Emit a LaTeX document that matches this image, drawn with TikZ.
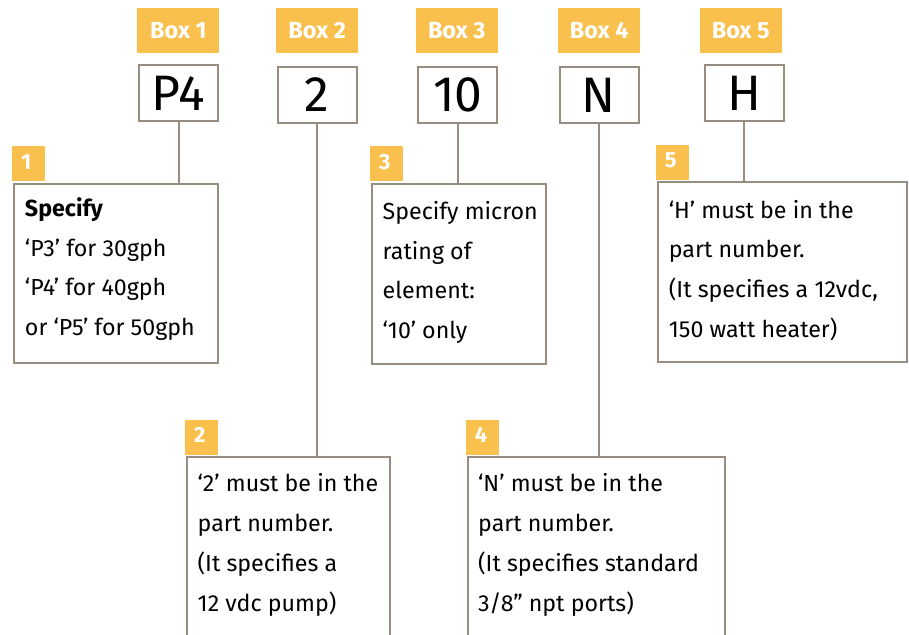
\documentclass[tikz,border=0pt]{standalone}
\usepackage{fontspec}
\setmainfont{Fira Sans}
\definecolor{tabc}{RGB}{249,192,78}
\definecolor{edgec}{RGB}{150,141,128}
\begin{document}
\begin{tikzpicture}[x=1bp,y=-1bp,
  hdr/.style={fill=tabc, text=white, font=\fontsize{23.5}{23.5}\selectfont\bfseries, minimum width=82bp, minimum height=44.7bp, inner sep=0pt},
  val/.style={draw=edgec, line width=2bp, minimum width=79bp, minimum height=56bp, inner sep=0pt, font=\fontsize{50}{50}\selectfont},
  desc/.style={draw=edgec, line width=2bp, inner sep=0pt, anchor=north west},
  numtab/.style={fill=tabc, minimum width=32.6bp, minimum height=35bp, inner sep=0pt, anchor=south west},
  numtxt/.style={text=white, font=\fontsize{22}{22}\selectfont\bfseries, anchor=base west, inner sep=0pt},
  txt/.style={anchor=base west, inner sep=0pt, font=\fontsize{23.3}{40}\selectfont},
  conn/.style={draw=edgec, line width=2bp}]
\useasboundingbox (0,0) rectangle (909,635);
\clip (0,0) rectangle (909,635);

% headers
\node[hdr] (h1) at (178.3,30.3) {Box 1};
\node[hdr] (h2) at (317.2,30.3) {Box 2};
\node[hdr] (h3) at (456.8,30.3) {Box 3};
\node[hdr] (h4) at (599.2,30.3) {Box 4};
\node[hdr] (h5) at (740.8,30.3) {Box 5};

% value boxes
\node[val] (v1) at (178.5,93.2) {P4};
\node[val] (v2) at (317.0,95.0) {2};
\node[val] (v3) at (457.8,94.8) {10};
\node[val] (v4) at (599.0,95.0) {N};
\node[val] (v5) at (744.2,93.0) {H};

% description boxes
\node[desc, minimum width=204bp, minimum height=179.6bp] (d1) at (13.3,182.7) {};
\node[desc, minimum width=174bp, minimum height=180.6bp] (d3) at (371,182.7) {};
\node[desc, minimum width=249bp, minimum height=180.3bp] (d5) at (656.7,181) {};
\node[desc, minimum width=203bp, minimum height=220bp] (d2) at (186,456) {};
\node[desc, minimum width=257.3bp, minimum height=220bp] (d4) at (467,456) {};

% number tabs
\node[numtab] (t1) at ([xshift=-1.3bp,yshift=1bp]d1.north west) {};
\node[numtab] (t2) at ([xshift=-1bp,yshift=1bp]d2.north west) {};
\node[numtab] (t3) at ([xshift=-1bp,yshift=1bp]d3.north west) {};
\node[numtab] (t4) at ([xshift=-1.3bp,yshift=1bp]d4.north west) {};
\node[numtab] (t5) at ([xshift=-1bp,yshift=1bp]d5.north west) {};
\node[numtxt] (n1) at ([xshift=9bp,yshift=12.5bp]t1.south west) {1};
\node[numtxt] (n2) at ([xshift=9bp,yshift=12.5bp]t2.south west) {2};
\node[numtxt] (n3) at ([xshift=9bp,yshift=12.5bp]t3.south west) {3};
\node[numtxt] (n4) at ([xshift=9bp,yshift=12.5bp]t4.south west) {4};
\node[numtxt] (n5) at ([xshift=9bp,yshift=12.5bp]t5.south west) {5};

% connectors
\draw[conn] (v1.south) -- (v1.south |- d1.north);
\draw[conn] (v2.south) -- (v2.south |- d2.north);
\draw[conn] (v3.south) -- (v3.south |- d3.north);
\draw[conn] (v4.south) -- (v4.south |- d4.north);
\draw[conn] (v5.south) -- (v5.south |- d5.north);

% texts
\node[txt] (x1) at ([xshift=11.5bp,yshift=-33.5bp]d1.north west) {\begin{tabular}[t]{@{}l@{}}\textbf{Specify}\\ `P3' for 30gph\\ `P4' for 40gph\\ or `P5' for 50gph\end{tabular}};
\node[txt] (x3) at ([xshift=11.5bp,yshift=-36.5bp]d3.north west) {\begin{tabular}[t]{@{}l@{}}Specify micron\\ rating of\\ element:\\ `10' only\end{tabular}};
\node[txt] (x5) at ([xshift=12bp,yshift=-37bp]d5.north west) {\begin{tabular}[t]{@{}l@{}}`H' must be in the\\ part number.\\ (It specifies a 12vdc,\\ 150 watt heater)\end{tabular}};
\node[txt] (x2) at ([xshift=11.5bp,yshift=-35.7bp]d2.north west) {\begin{tabular}[t]{@{}l@{}}`2' must be in the\\ part number.\\ (It specifies a\\ 12 vdc pump)\end{tabular}};
\node[txt] (x4) at ([xshift=11bp,yshift=-35.7bp]d4.north west) {\begin{tabular}[t]{@{}l@{}}`N' must be in the\\ part number.\\ (It specifies standard\\ 3/8'' npt ports)\end{tabular}};
\end{tikzpicture}
\end{document}
